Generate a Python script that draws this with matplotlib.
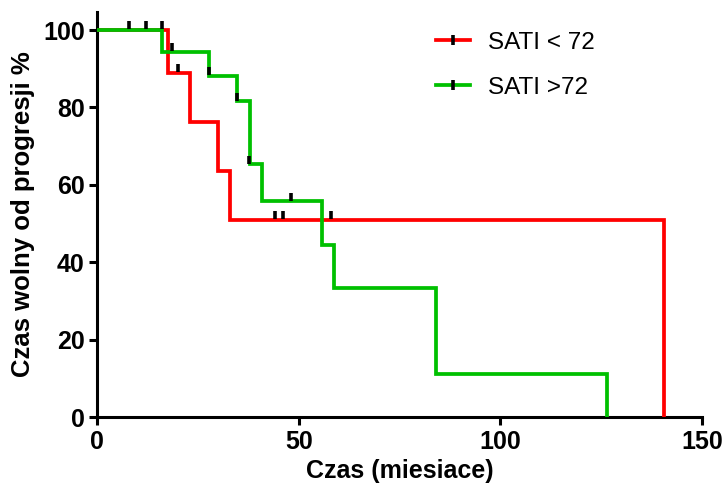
import matplotlib.pyplot as plt
from matplotlib.lines import Line2D
from matplotlib import font_manager

plt.rcParams['font.family'] = ['Liberation Sans', 'DejaVu Sans']

names = {f.name for f in font_manager.fontManager.ttflist}
TICK_FONT = 'Liberation Sans Narrow' if 'Liberation Sans Narrow' in names else 'Liberation Sans'

# Kaplan-Meier steps (time in months, survival %)
red_t = [0, 17.5, 23, 30, 33, 140.5]
red_s = [100, 89.0, 76.2, 63.5, 51.0, 0]
red_cens_t = [8, 12, 16, 20, 44, 46, 58]
red_cens_s = [100, 100, 100, 89.0, 51.0, 51.0, 51.0]

green_t = [0, 16, 27.7, 34.8, 38, 41, 55.8, 58.7, 84, 126.5]
green_s = [100, 94.4, 88.2, 81.6, 65.3, 55.8, 44.6, 33.4, 11.1, 0]
green_cens_t = [18.5, 27.7, 34.8, 37.7, 48]
green_cens_s = [94.4, 88.2, 81.6, 65.3, 55.8]

RED = '#ff0000'
GREEN = '#00c000'

fig = plt.figure(figsize=(7.25, 4.92), dpi=100)
ax = fig.add_axes([0.134, 0.152, 0.834, 0.824])

ax.step(red_t, red_s, where='post', color=RED, lw=2.7, zorder=3,
        solid_joinstyle='miter')
ax.step(green_t, green_s, where='post', color=GREEN, lw=2.7, zorder=4,
        solid_joinstyle='miter')

ax.plot(red_cens_t, [s + 1.2 for s in red_cens_s], ls='none', marker='|',
        color='black', ms=6, mew=2.6, zorder=5)
ax.plot(green_cens_t, [s + 1.2 for s in green_cens_s], ls='none', marker='|',
        color='black', ms=6, mew=2.6, zorder=5)

ax.set_xlim(0, 150)
ax.set_ylim(0, 104.7)
ax.set_xticks([0, 50, 100, 150])
ax.set_yticks([0, 20, 40, 60, 80, 100])

for side in ('top', 'right'):
    ax.spines[side].set_visible(False)
for side in ('left', 'bottom'):
    ax.spines[side].set_linewidth(2.2)

ax.tick_params(axis='both', width=2.2, length=6, pad=3)
for lab in ax.get_xticklabels() + ax.get_yticklabels():
    lab.set_fontweight('bold')
    lab.set_fontsize(18)
    lab.set_family([TICK_FONT, 'DejaVu Sans'])

ax.set_xlabel('Czas (miesiace)', fontsize=18, fontweight='bold', labelpad=4)
ax.set_ylabel('Czas wolny od progresji %', fontsize=18.5, fontweight='bold',
              labelpad=6)

handles = [
    Line2D([], [], color=RED, lw=2.7, marker='|', mec='black', ms=7, mew=2.6),
    Line2D([], [], color=GREEN, lw=2.7, marker='|', mec='black', ms=7, mew=2.6),
]
ax.legend(handles, ['SATI < 72', 'SATI >72'], loc='upper left',
          bbox_to_anchor=(0.525, 1.005), frameon=False, fontsize=17.5,
          handlelength=1.4, handletextpad=0.7, labelspacing=0.95)

fig.savefig('out.png', dpi=100)
